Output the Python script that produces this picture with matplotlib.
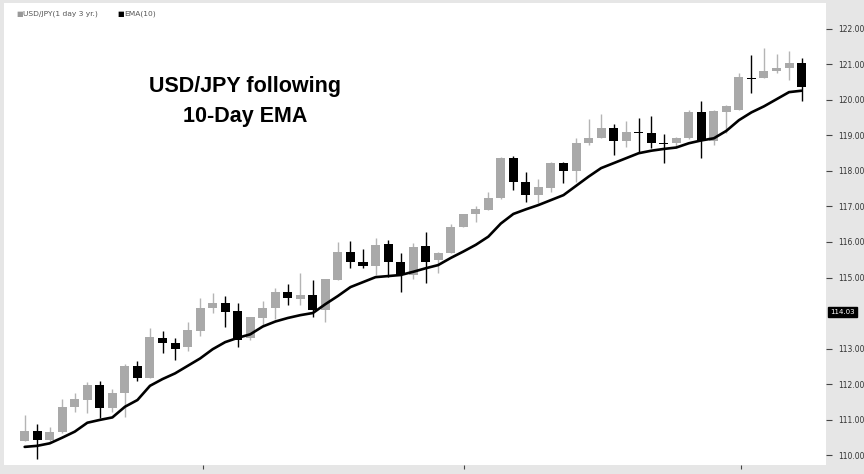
import matplotlib
matplotlib.use("Agg")
import matplotlib.pyplot as plt
import numpy as np

# ---- data ----
opens = [110.40, 110.68, 110.42, 110.66, 111.36, 111.55, 111.97, 111.33, 111.75, 112.52,
         112.16, 113.31, 113.16, 113.03, 113.50, 114.13, 114.29, 114.06, 113.31, 113.85,
         114.13, 114.60, 114.39, 114.50, 114.08, 114.93, 115.73, 115.45, 115.33, 115.94,
         115.45, 115.07, 115.89, 115.48, 115.68, 116.41, 116.79, 116.90, 117.23, 118.36,
         117.70, 117.32, 117.51, 118.23, 118.00, 118.80, 118.94, 119.22, 118.83, 119.09,
         119.06, 118.78, 118.78, 118.92, 119.67, 118.85, 119.67, 119.72, 120.63, 120.61,
         120.82, 120.90, 121.05]
highs = [111.13, 110.87, 110.78, 111.57, 111.75, 112.06, 112.08, 111.86, 112.56, 112.66,
         113.57, 113.50, 113.29, 113.75, 114.41, 114.56, 114.48, 114.27, 113.90, 114.35,
         114.70, 114.82, 115.12, 114.93, 114.97, 116.00, 116.04, 115.79, 116.10, 116.06,
         115.68, 115.96, 116.29, 115.72, 116.52, 116.80, 117.01, 117.42, 118.38, 118.42,
         117.98, 117.77, 118.25, 118.26, 118.92, 119.46, 119.60, 119.32, 119.42, 119.48,
         119.55, 119.05, 118.95, 119.72, 119.98, 119.72, 119.86, 120.77, 121.27, 121.46,
         121.30, 121.39, 121.17]
lows = [110.39, 109.89, 110.40, 110.62, 111.20, 111.18, 111.04, 111.22, 111.08, 112.09,
        112.16, 112.88, 112.68, 112.94, 113.35, 114.00, 113.61, 113.03, 113.24, 113.66,
        113.82, 114.23, 114.23, 113.90, 113.75, 114.93, 115.26, 115.26, 115.07, 115.02,
        114.60, 114.95, 114.84, 115.12, 115.68, 116.41, 116.57, 116.90, 117.20, 117.46,
        117.14, 117.09, 117.42, 117.65, 117.70, 118.73, 118.94, 118.45, 118.68, 118.54,
        118.66, 118.22, 118.69, 118.90, 118.36, 118.73, 119.06, 119.72, 120.19, 120.61,
        120.75, 120.56, 119.98]
closes = [110.68, 110.42, 110.66, 111.36, 111.57, 111.97, 111.33, 111.74, 112.52, 112.16,
          113.33, 113.16, 113.00, 113.52, 114.13, 114.27, 114.04, 113.24, 113.88, 114.13,
          114.60, 114.41, 114.50, 114.08, 114.95, 115.73, 115.45, 115.33, 115.92, 115.45,
          115.07, 115.87, 115.45, 115.70, 116.41, 116.79, 116.92, 117.23, 118.36, 117.70,
          117.32, 117.54, 118.23, 118.00, 118.80, 118.94, 119.22, 118.83, 119.09, 119.06,
          118.78, 118.75, 118.94, 119.67, 118.85, 119.69, 119.83, 120.64, 120.59, 120.82,
          120.90, 121.05, 120.36]
ema10 = [110.23, 110.26, 110.33, 110.49, 110.66, 110.91, 110.99, 111.06, 111.36, 111.55,
         111.95, 112.14, 112.30, 112.51, 112.72, 112.98, 113.18, 113.30, 113.40, 113.62,
         113.76, 113.86, 113.94, 114.00, 114.25, 114.48, 114.73, 114.87, 115.01, 115.04,
         115.07, 115.16, 115.26, 115.35, 115.55, 115.73, 115.92, 116.15, 116.52, 116.79,
         116.92, 117.04, 117.18, 117.32, 117.58, 117.84, 118.08, 118.22, 118.36, 118.50,
         118.57, 118.62, 118.66, 118.78, 118.86, 118.92, 119.13, 119.43, 119.65, 119.82,
         120.02, 120.22, 120.26]
y_ticks = [110, 111, 112, 113, 115, 116, 117, 118, 119, 120, 121, 122]
last_price = 114.03
month_ticks = [14.2, 35.1, 57.2]
title_text = "USD/JPY following\n10-Day EMA"
legend_labels = ["USD/JPY(1 day 3 yr.)", "EMA(10)"]

# ---- figure ----
W, H = 864, 474
fig = plt.figure(figsize=(W / 100, H / 100), dpi=100)
fig.patch.set_facecolor("#e6e6e6")
ax = fig.add_axes([4 / W, (H - 465) / H, (826 - 4) / W, (465 - 3) / H])
ax.set_facecolor("white")

GRAY = "#a9a9a9"
GRAY_WICK = "#b4b4b4"
x = np.arange(len(opens))
o = np.array(opens); c = np.array(closes); hi = np.array(highs); lo = np.array(lows)
up = c >= o
cols = np.where(up, GRAY, "black")
wcols = np.where(up, GRAY_WICK, "black")

ax.vlines(x, lo, hi, colors=wcols, linewidth=1.0, zorder=2)
body_bottom = np.minimum(o, c)
body_h = np.maximum(np.abs(c - o), 0.035)
ax.bar(x, body_h, bottom=body_bottom, width=0.72, color=cols, edgecolor="none", zorder=3)

ax.plot(x, ema10, color="black", linewidth=1.9, zorder=4, solid_capstyle="round")

ax.set_xlim(-1.65, 63.95)
ax.set_ylim(109.72, 122.73)

for s in ax.spines.values():
    s.set_visible(False)

ax.yaxis.tick_right()
ax.set_yticks(y_ticks)
ax.set_yticklabels([f"{v:.2f}" for v in y_ticks])
ax.tick_params(axis="y", direction="out", length=4, width=0.8, color="#444444",
               labelsize=5.5, labelcolor="#333333", pad=5)
ax.set_xticks(month_ticks)
ax.set_xticklabels([])
ax.tick_params(axis="x", direction="out", length=3, width=0.8, color="#444444")

# last price marker
ax.annotate(f"{last_price:.2f}", xy=(1.0, last_price), xycoords=("axes fraction", "data"),
            xytext=(3, 0), textcoords="offset points", ha="left", va="center",
            fontsize=5.0, color="white",
            bbox=dict(boxstyle="square,pad=0.25", fc="black", ec="black"))

# title text
ax.text(0.293, 0.787, title_text, transform=ax.transAxes, ha="center", va="center",
        fontsize=15.5, fontweight="bold", family="Liberation Sans", linespacing=1.55)

# legend
fig.text(16 / W, 1 - 14 / H, "\u25A0", color="#999999", fontsize=5.0, va="center", ha="left")
fig.text(23 / W, 1 - 14 / H, legend_labels[0], color="#555555", fontsize=5.4, va="center", ha="left")
fig.text(117 / W, 1 - 14 / H, "\u25A0", color="black", fontsize=5.0, va="center", ha="left")
fig.text(124 / W, 1 - 14 / H, legend_labels[1], color="#555555", fontsize=5.4, va="center", ha="left")

fig.savefig("out.png", dpi=100, facecolor=fig.get_facecolor())
